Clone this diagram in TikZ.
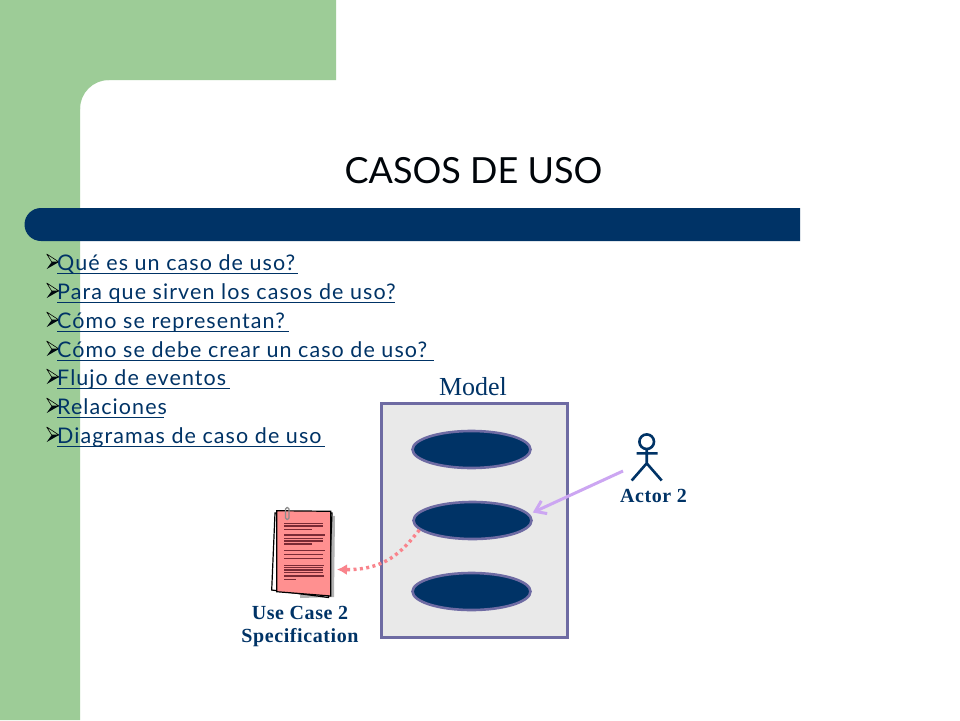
\documentclass[tikz,border=0pt]{standalone}
\usepackage{fontspec}
\usetikzlibrary{arrows.meta,shapes.geometric,positioning}
\setmainfont{Lato}
\newfontfamily\listfont[LetterSpace=5]{Lato}
\newfontfamily\labelfont[LetterSpace=3]{Liberation Serif}
\newfontfamily\modelfont{Liberation Serif}
\definecolor{navy}{HTML}{003366}
\definecolor{sage}{HTML}{9DCC97}
\definecolor{boxline}{HTML}{6E6BA3}
\definecolor{boxfill}{HTML}{E9E9E9}
\definecolor{lilac}{HTML}{CCA6F2}
\definecolor{rosy}{HTML}{F9848C}
\definecolor{paper}{HTML}{FF9090}
\definecolor{inkline}{HTML}{7A2A35}
\tikzset{
  x=1pt,y=-1pt,
  listitem/.style={anchor=base west,inner sep=0pt,text=navy,font=\listfont\fontsize{21.5}{21.5}\selectfont},
  usecase/.style={ellipse,draw=boxline,fill=navy,line width=2.6pt,minimum width=118pt,minimum height=37pt,inner sep=0pt},
  serifbold/.style={text=navy,font=\labelfont\bfseries\fontsize{20}{23}\selectfont,align=center,inner sep=0pt},
  textrule/.style={draw=inkline,line width=1.3pt},
}
\newcommand{\listline}[4]{%
  \draw[black,line width=0.6pt,line join=round] (46.7,#2-16) -- (59,#2-8) -- (51.7,#2-8) -- cycle;
  \fill[black!85!navy] (46.7,#2-1) -- (59,#2-8) -- (51.7,#2-8) -- cycle;
  \node[listitem] (#1) at (57,#2) {#3};
  \draw[navy,line width=1.2pt] (57,#2+3.5) -- (#4,#2+3.5);
}
\begin{document}
\begin{tikzpicture}
\useasboundingbox (0,0) rectangle (960,720);
\fill[white] (0,0) rectangle (960,720);
\fill[sage] (0,0) rectangle (336,80) (0,80) rectangle (80,720);
\fill[sage] (80,80) -- (109,80) arc[start angle=270,end angle=180,radius=29] -- cycle;
\node[anchor=base,inner sep=0pt,font=\fontsize{36}{36}\selectfont,text=black!90!navy] (title) at (473.5,183) {CASOS DE USO};
\fill[navy] (800,208) -- (41,208) arc[start angle=270,end angle=90,radius=16.5] -- (800,241) -- cycle;
\listline{a}{270}{Qué es un caso de uso?}{298}
\listline{b}{299}{Para que sirven los casos de uso?}{395}
\listline{c}{328}{Cómo se representan?}{289}
\listline{d}{357}{Cómo se debe crear un caso de uso?}{434}
\listline{e}{385}{Flujo de eventos}{230}
\listline{f}{414}{Relaciones}{164}
\listline{g}{443}{Diagramas de caso de uso}{325}
\node[anchor=base,inner sep=0pt,text=navy,font=\modelfont\fontsize{26}{26}\selectfont] (model) at (473,395) {Model};
\node[draw=boxline,fill=boxfill,line width=3pt,minimum width=186pt,minimum height=234pt,inner sep=0pt] (box) at (474,520.5) {};
\node[usecase] (uc1) at (471.5,449.5) {};
\node[usecase] (uc2) at (472.5,520.5) {};
\node[usecase] (uc3) at (471.5,591.5) {};
% actor
\coordinate (head) at (646.7,441.7);
\draw[navy,line width=2.6pt] (head) circle[radius=7.3];
\coordinate (neck) at (646.7,449);
\coordinate (hip) at (646.7,463.3);
\coordinate (armL) at (636.7,453.3);
\coordinate (armR) at (657.5,453.3);
\coordinate (legL) at (631.7,480.5);
\coordinate (legR) at (661.7,480.5);
\draw[navy,line width=2.6pt] (neck) -- (hip) (armL) -- (armR) (legL) -- (hip) -- (legR);
\node[serifbold] (actor) at (653.5,496) {Actor 2};
\coordinate (actorEnd) at (623,471);
\draw[lilac,line width=3pt,-{Straight Barb[length=10pt,width=14pt,line width=3pt]}] (actorEnd) -- ([yshift=8pt]uc2.east);
% document
\fill[black!30] (300,515) -- (335,516) -- (334,597) -- (300,598) -- cycle;
\draw[black,fill=white,line width=1.2pt] (275,513) -- (332,513) -- (328.5,597.5) -- (271.7,590) -- cycle;
\draw[black,fill=paper,line width=1.2pt] (276.7,510.7) -- (330.7,511.3) -- (330.7,596) -- (276.7,591.7) -- cycle;
\draw[black!45,line width=1.3pt,rounded corners=1.5pt] (285.5,507.5) rectangle (289,519.5);
\foreach \ya/\xb in {523.3/323,526/323,529.3/311.7,535/325,538.3/323,541/323,544/312,550.7/325,554.3/323,558.3/323,565.3/324,567.7/323,570/323,572.3/323,576/324,579.3/296}{
  \draw[textrule] (284,\ya) -- (\xb,\ya);
}
\node[serifbold] (spec) at (300,626) {Use Case 2\\Specification};
\coordinate (docEnd) at (337,569.5);
\draw[rosy,line width=3.4pt,dash pattern=on 3pt off 3.4pt,-{Latex[length=10pt,width=11pt]}] (uc2.190) .. controls (402,552) and (385,570) .. (docEnd);
\end{tikzpicture}
\end{document}
